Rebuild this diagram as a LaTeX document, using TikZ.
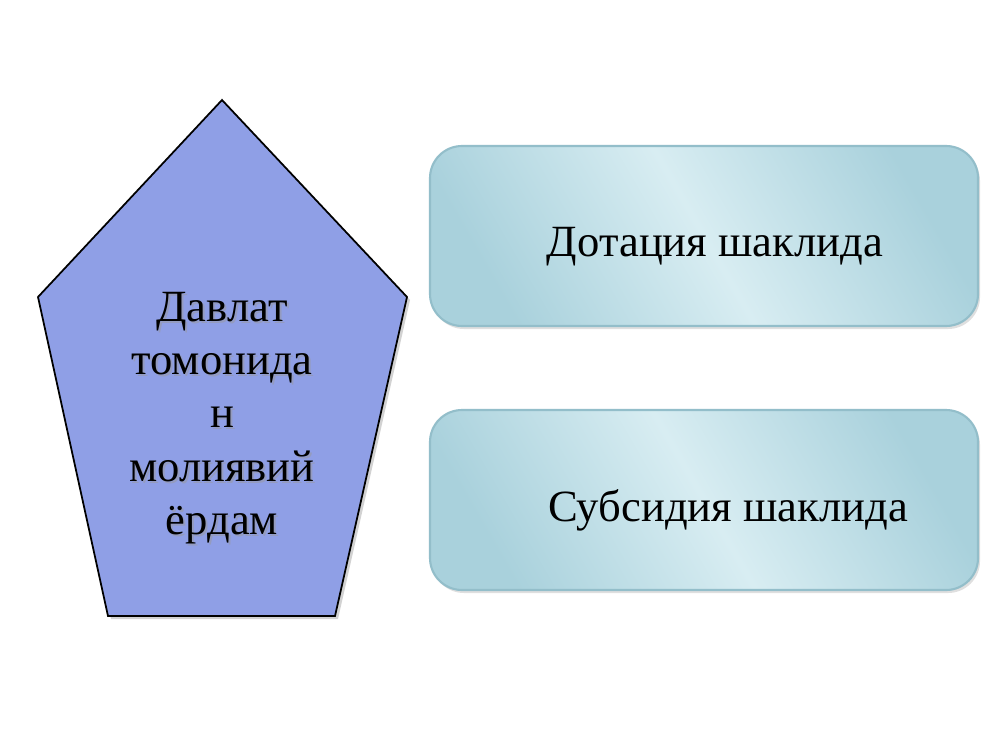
\documentclass[tikz,border=0pt]{standalone}
\usepackage{fontspec}
\setmainfont{Liberation Serif}
\usetikzlibrary{shadows}
\definecolor{pentfill}{HTML}{8F9FE6}
\definecolor{boxedge}{HTML}{A9D1DC}
\definecolor{boxmid}{HTML}{D8EDF2}
\definecolor{boxborder}{HTML}{93BECA}
\begin{document}
\begin{tikzpicture}[
  pent/.style={draw=black, line width=0.5pt, fill=pentfill, line join=miter,
    drop shadow={shadow xshift=0.03cm, shadow yshift=-0.03cm, opacity=0.35}},
  optbox/.style={draw=boxborder, line width=0.6pt, rounded corners=0.32cm,
    minimum width=5.48cm, minimum height=1.80cm, inner sep=0pt,
    left color=boxedge, right color=boxedge, middle color=boxmid, shading angle=120,
    drop shadow={shadow xshift=0.02cm, shadow yshift=-0.03cm, opacity=0.25}},
  boxtext/.style={font=\fontsize{12.7}{15}\selectfont, text=black, inner sep=0pt},
  penttext/.style={font=\fontsize{12.7}{15.2}\selectfont, align=center, inner sep=0pt}
]
\useasboundingbox (0,0) rectangle (10,7.5);
\fill[white] (0,0) rectangle (10,7.5);
% pentagon
\coordinate (pt) at (2.22,6.50);
\coordinate (pr) at (4.07,4.53);
\coordinate (pbr) at (3.35,1.34);
\coordinate (pbl) at (1.08,1.34);
\coordinate (pl) at (0.38,4.53);
\draw[pent] (pt) -- (pr) -- (pbr) -- (pbl) -- (pl) -- cycle;
\node[penttext, text=black!40, opacity=0.5] (pshadow) at (2.24,3.30) {Давлат\\томонида\\н\\молиявий\\ёрдам};
\node[penttext, text=black] (ptext) at (2.22,3.32) {Давлат\\томонида\\н\\молиявий\\ёрдам};
% boxes
\node[optbox] (b1) at (7.04,5.14) {};
\node[optbox] (b2) at (7.04,2.50) {};
\node[boxtext] (t1) at ([shift={(0.11,-0.11)}]b1.center) {Дотация шаклида};
\node[boxtext] (t2) at ([shift={(0.24,-0.10)}]b2.center) {Субсидия шаклида};
\end{tikzpicture}
\end{document}
